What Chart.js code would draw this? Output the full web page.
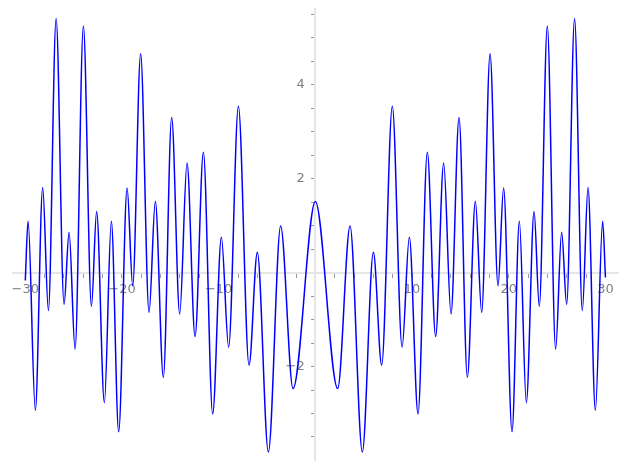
<!DOCTYPE html>
<html>
<head>
<meta charset="utf-8">
<script src="https://cdn.jsdelivr.net/npm/chart.js@4"></script>
<style>
    html, body { margin: 0; padding: 0; background: #fff; }
    #wrap { width: 627px; height: 470px; }
</style>
</head>
<body>
<div id="wrap"><canvas id="plot"></canvas></div>
<script>
// extrema of the curve (x, y)
const xs = [-30.0, -29.71, -28.96, -28.20, -27.61, -26.81, -25.99, -25.47, -24.85, -23.99,
    -23.16, -22.62, -21.82, -21.10, -20.34, -19.47, -18.89, -18.07, -17.20, -16.55,
    -15.72, -14.86, -14.03, -13.27, -12.44, -11.58, -10.62, -9.72, -8.97, -7.96,
    -6.86, -6.00, -4.86, -3.59, -2.31, 0,
    2.31, 3.59, 4.86, 6.00, 6.86, 7.96, 8.97, 9.72, 10.62, 11.58,
    12.44, 13.27, 14.03, 14.86, 15.72, 16.55, 17.20, 18.07, 18.89, 19.47,
    20.34, 21.10, 21.82, 22.62, 23.16, 23.99, 24.85, 25.47, 25.99, 26.81,
    27.61, 28.20, 28.96, 29.71, 30.0];
const ys = [-0.17, 1.09, -2.93, 1.81, -0.81, 5.41, -0.68, 0.86, -1.63, 5.25,
    -0.72, 1.30, -2.77, 1.09, -3.39, 1.80, -0.28, 4.66, -0.85, 1.52,
    -2.23, 3.30, -0.88, 2.33, -1.36, 2.56, -3.01, 0.75, -1.59, 3.54,
    -1.97, 0.43, -3.82, 0.99, -2.47, 1.51,
    -2.47, 0.99, -3.82, 0.43, -1.97, 3.54, -1.59, 0.75, -3.01, 2.56,
    -1.36, 2.33, -0.88, 3.30, -2.23, 1.52, -0.85, 4.66, -0.28, 1.80,
    -3.39, 1.09, -2.77, 1.30, -0.72, 5.25, -1.63, 0.86, -0.68, 5.41,
    -0.81, 1.81, -2.93, 1.09, -0.10];

const xTicks = [-30, -28, -26, -24, -22, -20, -18, -16, -14, -12, -10, -8, -6, -4, -2, 0,
    2, 4, 6, 8, 10, 12, 14, 16, 18, 20, 22, 24, 26, 28, 30];
const xLabels = [-30, -20, -10, 10, 20, 30];
const yTicks = [-3.5, -3, -2.5, -2, -1.5, -1, -0.5, 0, 0.5, 1, 1.5, 2, 2.5, 3, 3.5, 4, 4.5, 5, 5.5];
const yLabels = [-2, 2, 4];

const points = xs.map((x, i) => ({ x: x, y: ys[i] }));

function fmt(v) {
    return v < 0 ? '\u2212' + Math.abs(v) : String(v);
}

const tickFont = { family: 'DejaVu Sans', size: 13 };

new Chart(document.getElementById('plot'), {
    type: 'line',
    data: {
        datasets: [{
            data: points,
            borderColor: '#0000ff',
            borderWidth: 1.5,
            pointRadius: 0,
            fill: false,
            cubicInterpolationMode: 'monotone'
        }]
    },
    options: {
        responsive: true,
        maintainAspectRatio: false,
        animation: false,
        layout: { padding: { left: 13, right: 9, top: 9, bottom: 10 } },
        plugins: { legend: { display: false }, tooltip: { enabled: false } },
        scales: {
            x: {
                type: 'linear',
                position: { y: 0 },
                min: -31.27,
                max: 31.3,
                afterBuildTicks: s => { s.ticks = xTicks.map(v => ({ value: v })); },
                grid: { drawOnChartArea: false, tickLength: 4, tickColor: '#999', tickWidth: 1 },
                border: { color: '#e6e6e6', width: 2 },
                ticks: {
                    autoSkip: false,
                    maxRotation: 0,
                    padding: 5,
                    color: '#808080',
                    font: tickFont,
                    callback: v => xLabels.includes(v) ? fmt(v) : ''
                }
            },
            y: {
                type: 'linear',
                position: { x: 0 },
                min: -3.99,
                max: 5.61,
                afterBuildTicks: s => { s.ticks = yTicks.map(v => ({ value: v })); },
                grid: { drawOnChartArea: false, tickLength: 3, tickColor: '#999', tickWidth: 1 },
                border: { color: '#e6e6e6', width: 2 },
                ticks: {
                    autoSkip: false,
                    padding: 0,
                    color: '#808080',
                    font: tickFont,
                    // labels on a centred axis sit flush on it, so pad them with spaces
                    callback: v => yLabels.includes(v) ? fmt(v) + '\u2002 ' : ''
                }
            }
        }
    }
});
</script>
</body>
</html>
